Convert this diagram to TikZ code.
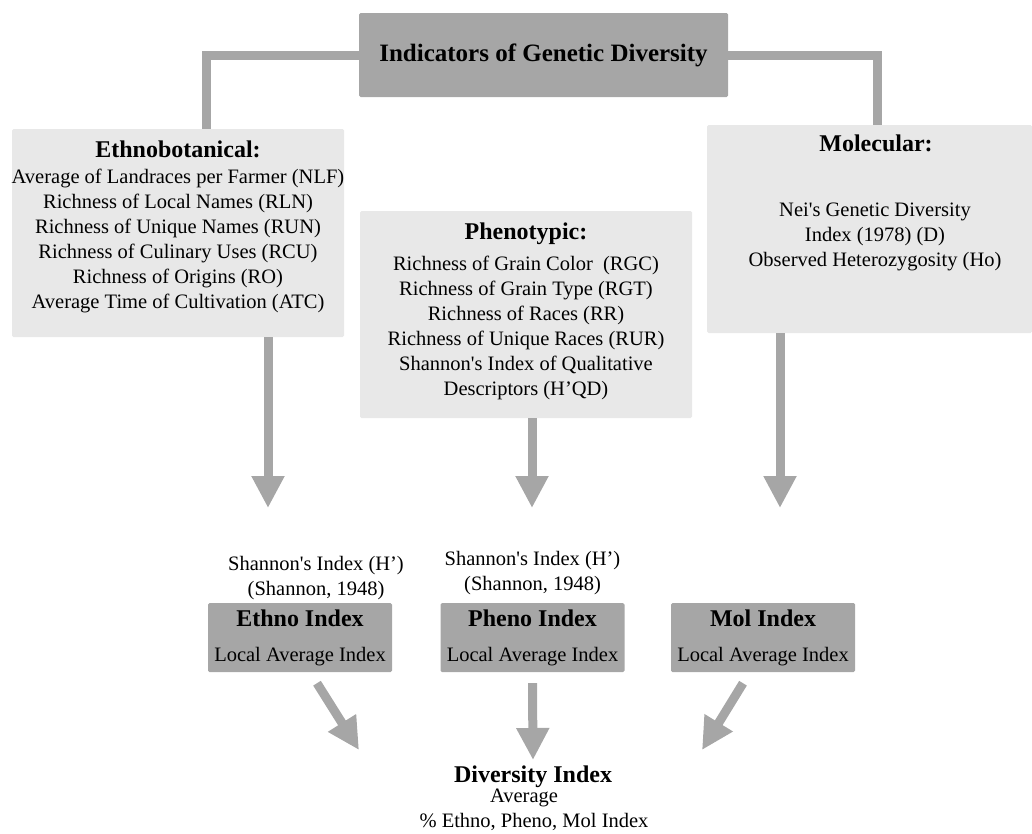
\documentclass[tikz,border=0pt]{standalone}
\usepackage{fontspec}
\setmainfont{Liberation Serif}
\usetikzlibrary{arrows.meta, positioning}

\definecolor{boxdark}{RGB}{166,166,166}
\definecolor{boxlight}{RGB}{232,232,232}
\definecolor{linegray}{RGB}{166,166,166}

\newcommand{\itemfont}{\fontsize{20.5}{25}\selectfont}
\newcommand{\headingfont}{\bfseries\fontsize{24}{28}\selectfont}
\newcommand{\topfont}{\bfseries\fontsize{25}{30}\selectfont}

\begin{document}
\begin{tikzpicture}[
    x=1pt, y=-1pt,
    darkbox/.style={rectangle, fill=boxdark, rounded corners=1.5pt, inner sep=0pt, align=center, font=\itemfont},
    lightbox/.style={rectangle, fill=boxlight, rounded corners=1.5pt, inner sep=0pt},
    listtext/.style={align=center, inner sep=0pt, font=\itemfont},
    link/.style={line width=9pt, draw=linegray},
    arrow/.style={-{Triangle[width=31pt, length=32pt]}, line width=9pt, draw=linegray}
]
\useasboundingbox (0,0) rectangle (1032,833);

% 1. Title
\node[darkbox, minimum width=369pt, minimum height=84pt, font=\topfont] (indicators) at (543.5,55) {Indicators of Genetic Diversity};

% 2. Indicator groups
\node[lightbox, minimum width=332pt, minimum height=208pt] (ethno) at (178,233) {};
\node[listtext] (ethno_list) at (178,227) {{\headingfont Ethnobotanical:}\\[1pt]
    Average of Landraces per Farmer (NLF)\\ Richness of Local Names (RLN)\\ Richness of Unique Names (RUN)\\
    Richness of Culinary Uses (RCU)\\ Richness of Origins (RO)\\ Average Time of Cultivation (ATC)};

\node[lightbox, minimum width=332pt, minimum height=207pt] (pheno) at (526,314.5) {};
\node[listtext] (pheno_list) at (526,311) {{\headingfont Phenotypic:}\\[6pt]
    Richness of Grain Color~ (RGC)\\ Richness of Grain Type (RGT)\\ Richness of Races (RR)\\
    Richness of Unique Races (RUR)\\ Shannon\textquotesingle s Index of Qualitative\\ Descriptors (H’QD)};

\node[lightbox, minimum width=325pt, minimum height=208pt] (mol) at (869.5,229) {};
\node[listtext, font=\headingfont] (mol_head) at (876,143) {Molecular:};
\node[listtext] (mol_list) at (875,237) {Nei\textquotesingle s Genetic Diversity\\ Index (1978) (D)\\ Observed Heterozygosity (Ho)};

% 3. Index boxes
\node[darkbox, minimum width=184pt, minimum height=69pt] (ethno_idx) at (300,637.5) {{\headingfont Ethno Index}\\[10pt] Local Average Index};
\node[darkbox, minimum width=184pt, minimum height=69pt] (pheno_idx) at (532.5,637.5) {{\headingfont Pheno Index}\\[10pt] Local Average Index};
\node[darkbox, minimum width=184pt, minimum height=69pt] (mol_idx) at (763,637.5) {{\headingfont Mol Index}\\[10pt] Local Average Index};

\node[listtext, above=3pt of ethno_idx, xshift=16pt] (ethno_note) {Shannon\textquotesingle s Index (H’)\\ (Shannon, 1948)};
\node[listtext, above=8pt of pheno_idx] (pheno_note) {Shannon\textquotesingle s Index (H’)\\ (Shannon, 1948)};

% 4. Result
\node[listtext, font=\headingfont] (div) at (533,777) {Diversity Index};
\node[listtext] (div_avg) at (524,798) {Average};
\node[listtext] (div_pct) at (534,822) {\% Ethno, Pheno, Mol Index};

% 5. Connections
\coordinate (ethno_in) at (206,129);
\coordinate (mol_in) at (877,125);
\draw[link] (indicators.west) -| (ethno_in);
\draw[link] (indicators.east) -| (mol_in);

\coordinate (ethno_tip) at (268,508);
\coordinate (pheno_tip) at (532,508);
\coordinate (mol_tip) at (780,508);
\draw[arrow] (ethno.south -| ethno_tip) -- (ethno_tip);
\draw[arrow] (pheno.south -| pheno_tip) -- (pheno_tip);
\draw[arrow] (mol.south -| mol_tip) -- (mol_tip);

\coordinate (div_left) at (359,750);
\coordinate (div_mid) at (533,760);
\coordinate (div_right) at (702,750);
\draw[arrow] ([xshift=17pt, yshift=-11pt]ethno_idx.south) -- (div_left);
\draw[arrow] ([yshift=-11pt]pheno_idx.south) -- (div_mid);
\draw[arrow] ([xshift=-20pt, yshift=-11pt]mol_idx.south) -- (div_right);

\end{tikzpicture}
\end{document}
